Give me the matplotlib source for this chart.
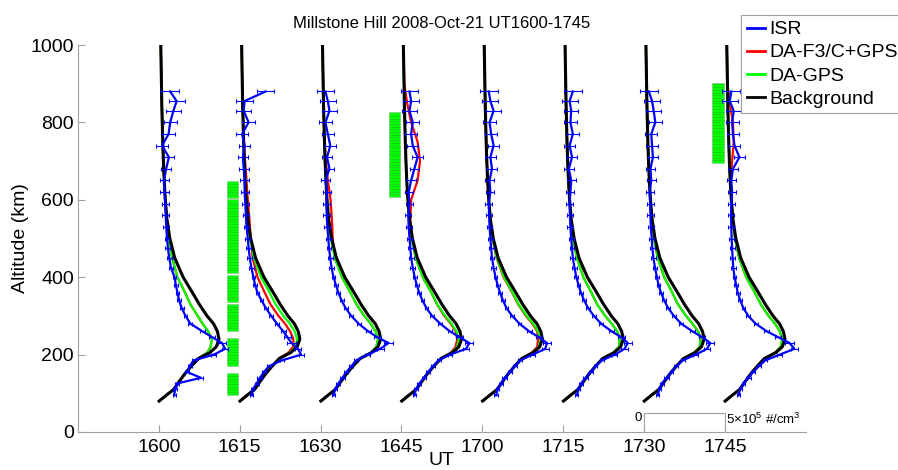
#!/usr/bin/env python
"""Millstone Hill electron density profiles, ISR vs data assimilation runs."""

import matplotlib
matplotlib.use("Agg")
import matplotlib.pyplot as plt
from matplotlib.lines import Line2D
from matplotlib.patches import Rectangle

plt.rcParams["font.family"] = ["Liberation Sans", "DejaVu Sans"]
plt.rcParams["mathtext.default"] = "regular"

TIME_LABELS = ["1600", "1615", "1630", "1645", "1700", "1715", "1730", "1745"]
NE_PER_SLOT = 5.0  # 1e5 #/cm3 per 15-min slot on the x axis

# model profiles (Ne in 1e5 #/cm3)
MODEL_ALT = [80, 95, 110, 130, 150, 170, 190, 205, 220, 240, 260, 280, 300, 330,
             360, 400, 450, 500, 550, 600, 650, 700, 750, 800, 850, 900, 1000]

BACKGROUND_NE = [0.02, 0.46, 0.92, 1.25, 1.6, 2.0, 2.45, 3.15, 3.55, 3.72, 3.62, 3.38, 2.98, 2.5,
                 2.08, 1.5, 0.98, 0.68, 0.5, 0.4, 0.33, 0.28, 0.24, 0.21, 0.18, 0.16, 0.12]

DA_GPS_NE = [
    [0.02, 0.46, 0.92, 1.25, 1.6, 2.0, 2.45, 3.0, 3.2, 3.28, 3.05, 2.7, 2.4, 1.95,
     1.62, 1.15, 0.82, 0.6, 0.48, 0.4, 0.33, 0.28, 0.24, 0.21, 0.18, 0.16, 0.12],
    [0.02, 0.46, 0.92, 1.25, 1.6, 2.0, 2.45, 3.1, 3.45, 3.55, 3.4, 3.1, 2.7, 2.22,
     1.85, 1.32, 0.88, 0.63, 0.48, 0.4, 0.33, 0.28, 0.24, 0.21, 0.18, 0.16, 0.12],
    [0.02, 0.46, 0.92, 1.25, 1.6, 2.0, 2.45, 3.1, 3.45, 3.55, 3.4, 3.1, 2.7, 2.22,
     1.85, 1.32, 0.88, 0.63, 0.48, 0.4, 0.33, 0.28, 0.24, 0.21, 0.18, 0.16, 0.12],
    [0.02, 0.46, 0.92, 1.25, 1.6, 2.0, 2.45, 3.1, 3.45, 3.55, 3.4, 3.1, 2.7, 2.22,
     1.85, 1.32, 0.88, 0.63, 0.48, 0.4, 0.33, 0.28, 0.24, 0.21, 0.18, 0.16, 0.12],
    [0.02, 0.46, 0.92, 1.25, 1.6, 2.0, 2.45, 3.1, 3.5, 3.6, 3.45, 3.15, 2.75, 2.25,
     1.88, 1.35, 0.9, 0.64, 0.48, 0.4, 0.33, 0.28, 0.24, 0.21, 0.18, 0.16, 0.12],
    [0.02, 0.46, 0.92, 1.25, 1.6, 2.0, 2.45, 3.1, 3.45, 3.5, 3.35, 3.0, 2.6, 2.1,
     1.75, 1.25, 0.85, 0.62, 0.48, 0.4, 0.33, 0.28, 0.24, 0.21, 0.18, 0.16, 0.12],
    [0.02, 0.46, 0.92, 1.25, 1.6, 2.0, 2.45, 3.1, 3.45, 3.5, 3.35, 3.0, 2.6, 2.1,
     1.75, 1.25, 0.85, 0.62, 0.48, 0.4, 0.33, 0.28, 0.24, 0.21, 0.18, 0.16, 0.12],
    [0.02, 0.46, 0.92, 1.25, 1.6, 2.0, 2.45, 3.1, 3.45, 3.55, 3.4, 3.1, 2.7, 2.22,
     1.85, 1.32, 0.88, 0.63, 0.48, 0.4, 0.33, 0.28, 0.24, 0.21, 0.18, 0.16, 0.12],
]

DA_F3C_NE = [
    [0.02, 0.46, 0.92, 1.25, 1.6, 2.0, 2.45, 3.0, 3.2, 3.28, 3.05, 2.7, 2.4, 1.95,
     1.62, 1.15, 0.82, 0.6, 0.48, 0.4, 0.33, 0.28, 0.24, 0.21, 0.18, 0.16, 0.12],
    [0.02, 0.46, 0.92, 1.25, 1.6, 2.0, 2.45, 3.0, 3.3, 3.32, 3.12, 2.8, 2.4, 1.9,
     1.55, 1.1, 0.8, 0.68, 0.6, 0.5, 0.42, 0.33, 0.27, 0.22, 0.18, 0.16, 0.12],
    [0.02, 0.46, 0.92, 1.25, 1.6, 2.0, 2.45, 3.1, 3.45, 3.55, 3.4, 3.1, 2.7, 2.22,
     1.85, 1.32, 0.88, 0.75, 0.7, 0.62, 0.45, 0.32, 0.25, 0.21, 0.18, 0.16, 0.12],
    [0.02, 0.46, 0.92, 1.25, 1.6, 2.0, 2.45, 3.05, 3.35, 3.45, 3.35, 3.05, 2.65, 2.2,
     1.85, 1.32, 0.88, 0.63, 0.55, 0.6, 1.0, 1.15, 1.0, 0.6, 0.35, 0.18, 0.12],
    [0.02, 0.46, 0.92, 1.25, 1.6, 2.0, 2.45, 3.05, 3.4, 3.45, 3.4, 3.1, 2.7, 2.22,
     1.85, 1.32, 0.88, 0.63, 0.48, 0.4, 0.33, 0.28, 0.24, 0.21, 0.18, 0.16, 0.12],
    [0.02, 0.46, 0.92, 1.25, 1.6, 2.0, 2.45, 3.1, 3.45, 3.5, 3.35, 3.0, 2.6, 2.1,
     1.75, 1.25, 0.85, 0.62, 0.48, 0.4, 0.33, 0.28, 0.24, 0.21, 0.18, 0.16, 0.12],
    [0.02, 0.46, 0.92, 1.25, 1.6, 2.0, 2.45, 3.1, 3.45, 3.5, 3.35, 3.0, 2.6, 2.1,
     1.75, 1.25, 0.85, 0.62, 0.48, 0.4, 0.33, 0.28, 0.24, 0.21, 0.18, 0.16, 0.12],
    [0.02, 0.46, 0.92, 1.25, 1.6, 2.0, 2.45, 3.1, 3.45, 3.55, 3.4, 3.1, 2.7, 2.22,
     1.85, 1.32, 0.88, 0.63, 0.48, 0.4, 0.35, 0.45, 0.55, 0.5, 0.3, 0.16, 0.12],
]

# ISR measurements with error bars
ISR_ALT = [95, 110, 125, 140, 155, 170, 185, 200, 215, 230, 245, 260, 280, 300, 320, 340, 360, 380,
           400, 425, 450, 475, 500, 530, 560, 590, 620, 650, 680, 710, 740, 770, 800, 830, 855, 880]
ISR_ERR = [0.1, 0.1, 0.12, 0.15, 0.12, 0.12, 0.12, 0.15, 0.2, 0.25, 0.2, 0.15, 0.12, 0.12, 0.12, 0.12,
           0.12, 0.12, 0.12, 0.15, 0.15, 0.15, 0.15, 0.18, 0.2, 0.22, 0.25, 0.28, 0.3, 0.32, 0.35, 0.38,
           0.4, 0.45, 0.5, 0.55]
ISR_NE = [
    [0.95, 1.0, 1.1, 2.6, 1.75, 1.9, 2.15, 3.4, 4.1, 3.9, 3.3, 2.7, 1.95, 1.65, 1.42, 1.25, 1.15, 1.05,
     0.97, 0.75, 0.64, 0.56, 0.5, 0.46, 0.42, 0.4, 0.35, 0.32, 0.45, 0.62, 0.2, 0.6, 0.7, 0.9, 1.1, 0.7],
    [0.75, 0.8, 1.05, 1.25, 1.5, 1.8, 2.6, 3.8, 3.6, 3.2, 2.95, 2.7, 2.3, 1.95, 1.62, 1.35, 1.1, 0.95,
     0.85, 0.72, 0.62, 0.55, 0.5, 0.42, 0.38, 0.35, 0.3, 0.3, 0.25, 0.2, 0.3, 0.15, 0.55, 0.25, 0.3, 1.6],
    [0.8, 0.9, 1.1, 1.35, 1.6, 1.9, 2.2, 2.9, 3.7, 4.2, 3.5, 2.95, 2.35, 1.9, 1.55, 1.3, 1.1, 0.95,
     0.8, 0.68, 0.6, 0.52, 0.48, 0.42, 0.38, 0.35, 0.4, 0.3, 0.55, 0.4, 0.6, 0.45, 0.3, 0.55, 0.45, 0.3],
    [0.8, 0.9, 1.1, 1.4, 1.65, 1.95, 2.3, 3.0, 4.0, 4.2, 3.6, 3.0, 2.4, 1.9, 1.55, 1.3, 1.1, 0.95,
     0.82, 0.7, 0.6, 0.55, 0.5, 0.45, 0.42, 0.5, 0.45, 0.6, 0.8, 1.0, 0.7, 0.6, 0.7, 0.5, 0.6, 0.5],
    [0.85, 0.95, 1.15, 1.4, 1.7, 2.0, 2.35, 3.1, 3.9, 4.0, 3.5, 2.9, 2.3, 1.85, 1.5, 1.28, 1.1, 0.95,
     0.82, 0.7, 0.6, 0.55, 0.5, 0.45, 0.42, 0.4, 0.5, 0.45, 0.6, 0.5, 0.7, 0.55, 0.45, 0.7, 0.5, 0.4],
    [0.85, 0.95, 1.1, 1.4, 1.7, 2.0, 2.4, 3.2, 3.8, 4.0, 3.6, 3.0, 2.35, 1.9, 1.55, 1.3, 1.1, 0.95,
     0.82, 0.7, 0.6, 0.55, 0.5, 0.45, 0.42, 0.4, 0.45, 0.5, 0.35, 0.55, 0.4, 0.6, 0.45, 0.5, 0.4, 0.6],
    [0.85, 0.95, 1.1, 1.4, 1.7, 2.0, 2.4, 3.2, 3.9, 4.1, 3.6, 3.0, 2.3, 1.85, 1.5, 1.25, 1.05, 0.9,
     0.8, 0.68, 0.58, 0.52, 0.48, 0.42, 0.4, 0.38, 0.35, 0.45, 0.4, 0.55, 0.5, 0.45, 0.7, 0.6, 0.5, 0.3],
    [0.85, 0.95, 1.15, 1.45, 1.75, 2.1, 2.5, 3.4, 4.3, 4.0, 3.3, 2.6, 1.9, 1.45, 1.15, 0.95, 0.8, 0.7,
     0.6, 0.52, 0.48, 0.45, 0.42, 0.4, 0.38, 0.4, 0.45, 0.4, 0.5, 0.9, 0.6, 0.5, 0.45, 0.55, 0.3, 0.4],
]

# GPS coverage blocks: (time index, altitude ranges in km)
GPS_BLOCK_TIME = [1, 3, 7]
GPS_BLOCK_RANGES = [
    [(96, 152), (171, 243), (261, 331), (336, 406), (411, 602), (605, 649)],
    [(607, 827)],
    [(695, 902)],
]

SCALE_SLOT = 6
SCALE_ALT = 49

BLUE, RED, GREEN, BLACK = "#0000ff", "#ff0000", "#00ff00", "#000000"
GRAY = "#a0a0a0"


def to_x(slot, values):
    return [slot + v / NE_PER_SLOT for v in values]


def main():
    fig = plt.figure(figsize=(8.98, 4.70), dpi=100)
    ax = fig.add_axes([78 / 898, 38 / 470, 727.7 / 898, 387 / 470])

    for k in range(len(TIME_LABELS)):
        ax.plot(to_x(k, DA_F3C_NE[k]), MODEL_ALT, color=RED, lw=1.6, zorder=3)
        ax.plot(to_x(k, DA_GPS_NE[k]), MODEL_ALT, color=GREEN, lw=1.6, zorder=4)
        ax.plot(to_x(k, BACKGROUND_NE), MODEL_ALT, color=BLACK, lw=2.2, zorder=5)
        ax.errorbar(to_x(k, ISR_NE[k]), ISR_ALT, xerr=[e / NE_PER_SLOT for e in ISR_ERR],
                    color=BLUE, lw=1.6, elinewidth=0.8, capsize=1.5, capthick=0.8, zorder=6)

    for k, ranges in zip(GPS_BLOCK_TIME, GPS_BLOCK_RANGES):
        for lo, hi in ranges:
            ax.add_patch(Rectangle((k - 0.155, lo), 0.14, hi - lo, facecolor=GREEN,
                                   edgecolor="#8fd08f", lw=0.6, zorder=2))
            alt = lo + 7
            while alt < hi - 3:
                ax.plot([k - 0.155, k - 0.015], [alt, alt], color="#22bb22", lw=0.4, zorder=2)
                alt += 7

    # density scale bar
    ax.plot([SCALE_SLOT, SCALE_SLOT, SCALE_SLOT + 1, SCALE_SLOT + 1], [0, SCALE_ALT, SCALE_ALT, 0],
            color=GRAY, lw=0.8, zorder=1)
    ax.text(SCALE_SLOT - 0.02, 36, "0", ha="right", va="center", fontsize=9.5)
    ax.text(SCALE_SLOT + 1.02, 33, r"5×10$^5$ #/cm$^3$", ha="left", va="center", fontsize=9.5)

    ax.set_xlim(-1, 8)
    ax.set_ylim(0, 1000)
    ax.set_xticks(range(len(TIME_LABELS)))
    ax.set_xticklabels(TIME_LABELS)
    ax.set_yticks(range(0, 1001, 200))
    ax.tick_params(direction="in", length=5, width=0.8, color=GRAY, labelsize=14)
    ax.tick_params(axis="x", pad=5)
    ax.tick_params(axis="y", pad=3)
    for side in ("top", "right"):
        ax.spines[side].set_visible(False)
    for side in ("left", "bottom"):
        ax.spines[side].set_color(GRAY)
        ax.spines[side].set_linewidth(0.8)

    ax.set_title("Millstone Hill 2008-Oct-21 UT1600-1745", fontsize=12, pad=12)
    ax.set_xlabel("UT", fontsize=14, labelpad=-3)
    ax.set_ylabel("Altitude (km)", fontsize=14, labelpad=1)

    handles = [Line2D([], [], color=c, lw=2) for c in (BLUE, RED, GREEN, BLACK)]
    labels = ["ISR", "DA-F3/C+GPS", "DA-GPS", "Background"]
    leg = ax.legend(handles, labels, loc="upper left", bbox_to_anchor=(741 / 898, 1 - 15 / 470),
                    bbox_transform=fig.transFigure, fontsize=14, fancybox=False, framealpha=1,
                    edgecolor=GRAY, borderpad=0.3, labelspacing=0.28, handlelength=0.95,
                    handletextpad=0.2, borderaxespad=0)
    leg.get_frame().set_linewidth(0.8)
    leg.set_zorder(10)

    fig.savefig("out.png", dpi=100)
    plt.close(fig)
    return 0


if __name__ == "__main__":
    raise SystemExit(main())
